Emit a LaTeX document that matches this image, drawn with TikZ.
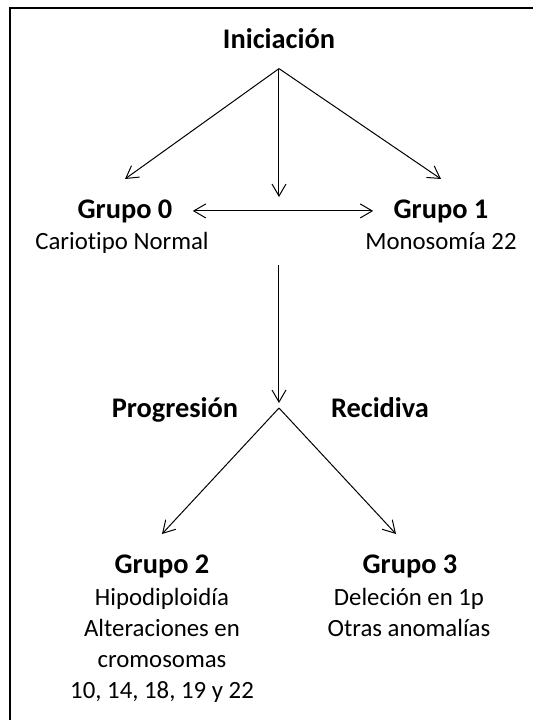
\documentclass[tikz,border=0pt]{standalone}
\usepackage{fontspec}
\setmainfont{Carlito}[Ligatures=NoCommon]
\usetikzlibrary{arrows.meta, positioning}

\begin{document}
\begin{tikzpicture}[x=0.5pt, y=-0.5pt,
  head/.style={font=\bfseries\fontsize{14.2}{17}\selectfont, inner sep=10pt, anchor=base},
  desc/.style={font=\fontsize{12.4}{15.5}\selectfont, align=center, inner sep=0pt, anchor=base},
  arr/.style={-{Straight Barb[length=6pt, width=7pt]}, line width=0.5pt},
  arrs/.style={{Straight Barb[length=6pt, width=7pt]}-{Straight Barb[length=6pt, width=7pt]}, line width=0.5pt}
]
  \useasboundingbox (0,0) rectangle (533,720);
  \draw[line width=0.75pt] (533,8) -- (10,8) -- (10,720);

  \node[head] (ini) at (279,48) {Iniciación};
  \node[head] (g0) at (125,218) {Grupo 0};
  \node[head] (g1) at (441,218) {Grupo 1};
  \node[desc] (g0d) at (122,249) {Cariotipo Normal};
  \node[desc] (g1d) at (441,249) {Monosomía 22};

  \node[head] (prog) at (175,417) {Progresión};
  \node[head] (rec) at (380,417) {Recidiva};

  \node[head] (g2) at (162,573) {Grupo 2};
  \node[head] (g3) at (410,573) {Grupo 3};
  % base of a multi-line node is its last line
  \node[desc] (g2d) at (162,698) {Hipodiploidía\\Alteraciones en\\cromosomas\\10, 14, 18, 19 y 22};
  \node[desc] (g3d) at (409,636) {Deleción en 1p\\Otras anomalías};

  \coordinate (mid) at (279,197);
  \coordinate (v1) at (279,265);
  \coordinate (fork) at (279,408);

  \draw[arr] (ini.south) -- (g0.north);
  \draw[arr] (ini.south) -- (mid);
  \draw[arr] (ini.south) -- (g1.north);
  \draw[arrs] (g0.east) -- (g1.west);
  \draw[arr, shorten >=2.5pt] (v1) -- (fork);
  \draw[arr] (fork) -- (g2.north);
  \draw[arr] (fork) -- ([xshift=-7pt]g3.north);
\end{tikzpicture}
\end{document}
